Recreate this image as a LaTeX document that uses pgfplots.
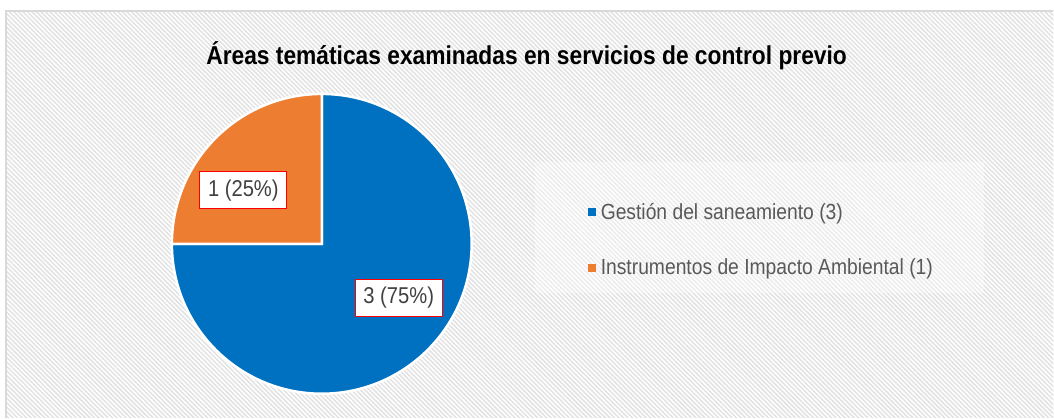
\documentclass[border=0pt]{standalone}
\usepackage{fontspec}
\setmainfont{Liberation Sans}[FakeStretch=0.88]
\usepackage{pgfplots}
\pgfplotsset{compat=1.18}
\usepackage{pgfplotstable}
\usetikzlibrary{patterns.meta}
\definecolor{cblue}{HTML}{0070C0}
\definecolor{corange}{HTML}{ED7D31}
\definecolor{ctext}{HTML}{595959}
\definecolor{clabel}{HTML}{404040}
\definecolor{cframe}{HTML}{D9D9D9}
\definecolor{cstripe}{HTML}{E2E2E2}

\pgfplotstableread{
value
3
1
}\piedata
\pgfplotstablegetelem{0}{value}\of\piedata \let\vA\pgfplotsretval
\pgfplotstablegetelem{1}{value}\of\piedata \let\vB\pgfplotsretval
\pgfmathsetmacro\endA{90-360*\vA/(\vA+\vB)}
\pgfmathsetmacro\endB{\endA-360*\vB/(\vA+\vB)}

\begin{document}
\begin{tikzpicture}
\begin{axis}[
  hide axis, scale only axis,
  width=1054bp, height=418bp,
  xmin=0, xmax=1054, ymin=0, ymax=418,
  y dir=reverse, clip=false,
  legend style={at={(axis cs:588,240)}, anchor=west, draw=none, fill=none,
    inner sep=0pt, row sep=34bp,
    font=\fontsize{22}{26}\selectfont\color{ctext},
    nodes={inner sep=2bp}},
  legend cell align=left,
]
% background
\fill[white] (axis cs:0,0) rectangle (axis cs:1054,418);
\fill[pattern={Lines[angle=-45,distance=3.2bp,line width=1.5bp]}, pattern color=cstripe]
  (axis cs:6,11) rectangle (axis cs:1054,418);
\draw[cframe, line width=1.5bp] (axis cs:6,418) -- (axis cs:6,11) -- (axis cs:1054,11);
% legend area
\fill[white, opacity=0.35] (axis cs:535,162) rectangle (axis cs:985,293);
% pie
\fill[cblue, draw=white, line width=2.5bp] (axis cs:322,244) -- ++(90:150bp)
  arc[start angle=90, end angle=\endA, radius=150bp] -- cycle;
\fill[corange, draw=white, line width=2.5bp] (axis cs:322,244) -- ++(\endA:150bp)
  arc[start angle=\endA, end angle=\endB, radius=150bp] -- cycle;
% labels
\node[draw=red, line width=1.2bp, fill=white, minimum width=87bp, minimum height=37bp, inner sep=0pt,
  font=\fontsize{23}{27}\selectfont, text=clabel] at (axis cs:243.5,190.5) {1 (25\%)};
\node[draw=red, line width=1.2bp, fill=white, minimum width=87bp, minimum height=37bp, inner sep=0pt,
  font=\fontsize{23}{27}\selectfont, text=clabel] at (axis cs:399,298) {3 (75\%)};
% title
\node[anchor=base, font=\fontsize{26}{30}\selectfont\bfseries] at (axis cs:527,65)
  {Áreas temáticas examinadas en servicios de control previo};
% legend
\addlegendimage{legend image code/.code={\fill[cblue, draw=none] (0bp,-4bp) rectangle (8bp,4bp); \path[draw=none, fill=none] (0bp,0bp) -- (11bp,0bp);}}
\addlegendentry{Gestión del saneamiento (3)}
\addlegendimage{legend image code/.code={\fill[corange, draw=none] (0bp,-4bp) rectangle (8bp,4bp); \path[draw=none, fill=none] (0bp,0bp) -- (11bp,0bp);}}
\addlegendentry{Instrumentos de Impacto Ambiental (1)}
\end{axis}
\end{tikzpicture}
\end{document}
